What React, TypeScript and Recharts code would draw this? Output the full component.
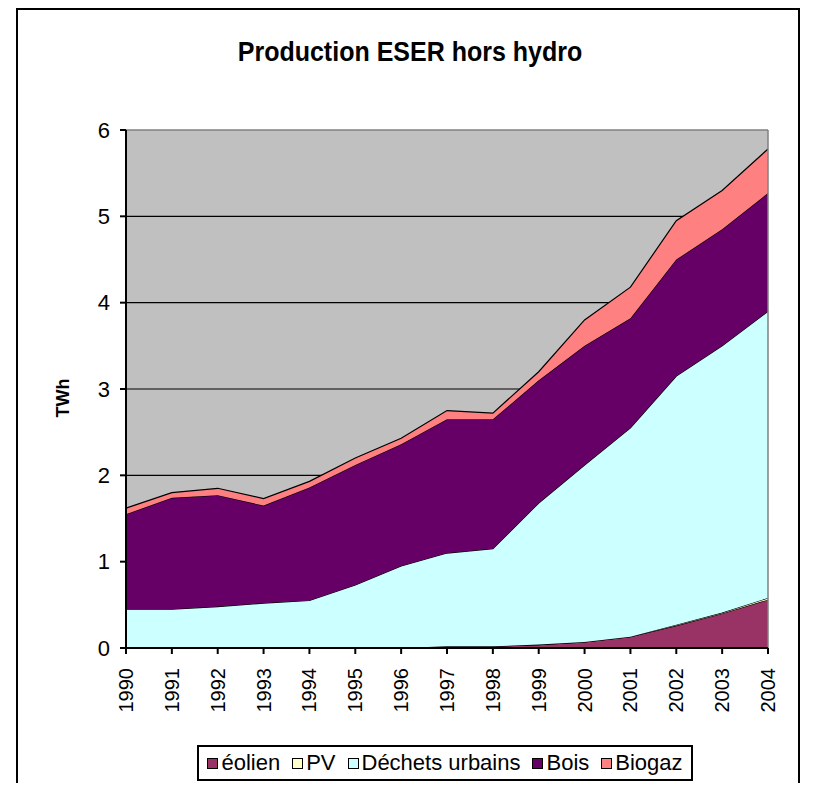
import { AreaChart, Area, XAxis, YAxis, CartesianGrid, Legend, ReferenceLine } from "recharts";

const years = ["1990", "1991", "1992", "1993", "1994", "1995", "1996", "1997", "1998", "1999", "2000", "2001", "2002", "2003", "2004"];
const eolien = [0, 0, 0, 0, 0, 0, 0, 0.02, 0.02, 0.04, 0.07, 0.13, 0.26, 0.4, 0.56];
const pv = [0, 0, 0, 0, 0, 0, 0, 0, 0, 0, 0, 0, 0.01, 0.01, 0.02];
const dechets = [0.45, 0.45, 0.48, 0.52, 0.55, 0.73, 0.95, 1.08, 1.13, 1.64, 2.05, 2.42, 2.88, 3.09, 3.32];
const bois = [1.1, 1.29, 1.29, 1.13, 1.31, 1.39, 1.41, 1.55, 1.5, 1.42, 1.38, 1.27, 1.35, 1.35, 1.37];
const biogaz = [0.07, 0.06, 0.08, 0.08, 0.07, 0.08, 0.07, 0.1, 0.07, 0.1, 0.3, 0.36, 0.45, 0.45, 0.51];
const yTicks = [0, 1, 2, 3, 4, 5, 6];

const series = [
  { key: "eolien", name: "éolien", color: "#993366" },
  { key: "pv", name: "PV", color: "#FFFFCC" },
  { key: "dechets", name: "Déchets urbains", color: "#CCFFFF" },
  { key: "bois", name: "Bois", color: "#660066" },
  { key: "biogaz", name: "Biogaz", color: "#FF8080" },
];

const data = years.map((year, i) => ({
  year,
  eolien: eolien[i],
  pv: pv[i],
  dechets: dechets[i],
  bois: bois[i],
  biogaz: biogaz[i],
}));

const font = "'Liberation Sans', Arial, sans-serif";

function YearTick(props: any) {
  const { x, y, payload } = props;
  return (
    <text
      x={x}
      y={y}
      transform={`rotate(-90 ${x} ${y})`}
      textAnchor="end"
      dominantBaseline="central"
      fontSize={20}
      fontFamily={font}
      fill="#000"
    >
      {payload.value}
    </text>
  );
}

function LegendBox() {
  return (
    <div
      style={{
        width: 496,
        height: 36,
        boxSizing: "border-box",
        border: "2px solid #000",
        background: "#fff",
        display: "flex",
        alignItems: "center",
        justifyContent: "center",
        fontFamily: font,
        fontSize: 22,
        color: "#000",
      }}
    >
      {series.map((s, i) => (
        <div key={s.key} style={{ display: "flex", alignItems: "center", marginLeft: i === 0 ? 0 : 12 }}>
          <span
            style={{
              display: "inline-block",
              width: 9,
              height: 9,
              background: s.color,
              border: "1px solid #000",
              marginRight: 3,
            }}
          />
          <span>{s.name}</span>
        </div>
      ))}
    </div>
  );
}

export default function App() {
  return (
    <div style={{ position: "relative", width: 799, height: 775, overflow: "hidden", background: "#fff" }}>
      <div
        style={{
          position: "absolute",
          left: 8,
          top: 0,
          width: 784,
          height: 800,
          boxSizing: "border-box",
          border: "2px solid #000",
        }}
      />
      <div
        style={{
          position: "absolute",
          left: 0,
          width: 804,
          top: 29,
          textAlign: "center",
          fontFamily: font,
          fontWeight: "bold",
          fontSize: 25,
          lineHeight: "28px",
          color: "#000",
          transform: "scaleY(1.12)",
        }}
      >
        Production ESER hors hydro
      </div>
      <div
        style={{
          position: "absolute",
          left: 55,
          top: 390,
          transform: "translate(-50%, -50%) rotate(-90deg)",
          fontFamily: font,
          fontWeight: "bold",
          fontSize: 18,
          color: "#000",
          whiteSpace: "nowrap",
        }}
      >
        TWh
      </div>
      <div style={{ position: "absolute", left: 0, top: 0 }}>
        <AreaChart width={799} height={775} data={data} margin={{ top: 122, right: 39, bottom: 60, left: 58 }}>
          <CartesianGrid
            vertical={false}
            horizontalValues={[1, 2, 3, 4, 5]}
            stroke="#000"
            strokeWidth={1.2}
            fill="#C0C0C0"
            fillOpacity={1}
          />
          <XAxis
            dataKey="year"
            interval={0}
            height={75}
            tickSize={6}
            tickMargin={14}
            axisLine={{ stroke: "#000", strokeWidth: 2 }}
            tickLine={{ stroke: "#000", strokeWidth: 2 }}
            tick={<YearTick />}
          />
          <YAxis
            domain={[0, 6]}
            ticks={yTicks}
            width={60}
            tickSize={6}
            tickMargin={10}
            axisLine={{ stroke: "#000", strokeWidth: 2 }}
            tickLine={{ stroke: "#000", strokeWidth: 2 }}
            tick={{ fill: "#000", fontSize: 22, fontFamily: font }}
          />
          {series.map((s) => (
            <Area
              key={s.key}
              type="linear"
              dataKey={s.key}
              name={s.name}
              stackId="1"
              stroke="#000"
              strokeWidth={1.2}
              fill={s.color}
              fillOpacity={1}
              isAnimationActive={false}
            />
          ))}
          <ReferenceLine y={6} stroke="#808080" strokeWidth={1.5} />
          <ReferenceLine x="2004" stroke="#808080" strokeWidth={1.5} />
          <Legend
            layout="horizontal"
            verticalAlign="middle"
            align="center"
            content={() => <LegendBox />}
            wrapperStyle={{ left: 189, top: 737, width: 496, height: 36 }}
          />
        </AreaChart>
      </div>
    </div>
  );
}
